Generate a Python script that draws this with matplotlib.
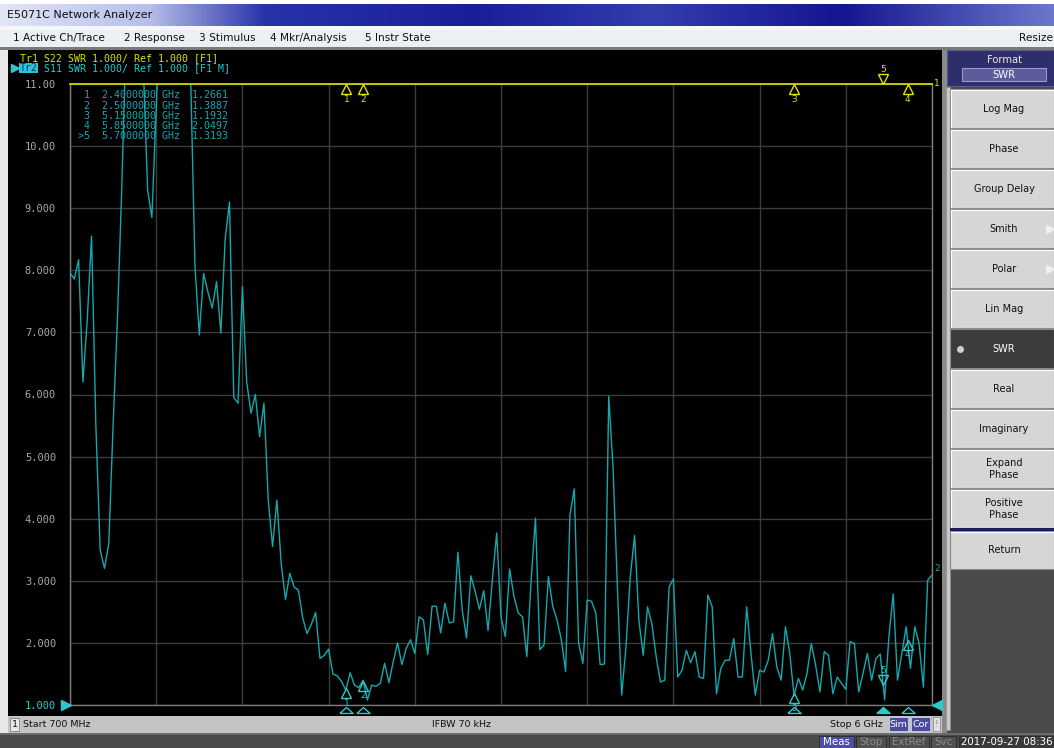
import numpy as np
import matplotlib.pyplot as plt
from matplotlib.patches import Rectangle
from matplotlib.colors import LinearSegmentedColormap
import matplotlib.transforms as mtransforms

plt.rcParams['font.family'] = ['DejaVu Sans']
MONO = 'DejaVu Sans Mono'

# sweep: Start 700 MHz, Stop 6 GHz, 201 points
start_ghz = 0.7
stop_ghz = 6.0
n_points = 201
freq = np.linspace(start_ghz, stop_ghz, n_points)

# Tr2 S11 SWR (values above 11 are off-scale)
s11_swr = [
    7.96, 7.86, 8.17, 6.2, 7.2, 8.55, 5.5, 3.5, 3.2, 3.6,
    5.5, 7.2, 9.3, 11.8, 12.5, 12.5, 12.5, 11.3, 9.3, 8.85,
    10.6, 12.3, 12.8, 12.8, 12.8, 12.8, 12.8, 12.2, 11.1, 8.06,
    6.96, 7.95, 7.65, 7.39, 7.82, 6.99, 8.5, 9.1, 5.95, 5.86,
    7.74, 6.2, 5.7, 6.0, 5.32, 5.86, 4.3, 3.55, 4.3, 3.28,
    2.7, 3.12, 2.9, 2.85, 2.4, 2.15, 2.3, 2.49, 1.75, 1.8,
    1.9, 1.5, 1.47, 1.38, 1.24, 1.52, 1.32, 1.28, 1.40, 1.08,
    1.32, 1.3, 1.35, 1.67, 1.36, 1.7, 2.0, 1.65, 1.91, 2.05,
    1.83, 2.42, 2.37, 1.81, 2.59, 2.59, 2.16, 2.64, 2.32, 2.34,
    3.46, 2.53, 2.08, 3.08, 2.83, 2.54, 2.84, 2.2, 3.02, 3.77,
    2.42, 2.1, 3.19, 2.75, 2.48, 2.42, 1.78, 3.02, 4.01, 1.89,
    1.97, 3.07, 2.59, 2.37, 2.05, 1.54, 4.06, 4.48, 2.0, 1.67,
    2.69, 2.67, 2.48, 1.65, 1.66, 5.97, 4.82, 2.91, 1.16, 1.94,
    3.07, 3.73, 2.36, 1.8, 2.58, 2.31, 1.78, 1.37, 1.4, 2.9,
    3.03, 1.45, 1.56, 1.88, 1.68, 1.86, 1.45, 1.43, 2.77, 2.58,
    1.18, 1.59, 1.72, 1.72, 2.07, 1.45, 1.45, 2.58, 1.83, 1.16,
    1.56, 1.53, 1.72, 2.15, 1.61, 1.4, 2.26, 1.83, 1.15, 1.43,
    1.24, 1.51, 1.99, 1.64, 1.21, 1.86, 1.8, 1.18, 1.45, 1.35,
    1.25, 2.02, 1.99, 1.21, 1.51, 1.83, 1.4, 1.75, 1.82, 1.08,
    2.1, 2.79, 1.4, 1.83, 2.26, 1.59, 2.26, 1.99, 1.29, 3.01,
    3.09,
]
# Tr1 S22 sits on the top graticule line
s22_level = 11.0

marker_ids = ['1', '2', '3', '4', '5']
marker_freq = [2.4, 2.5, 5.15, 5.85, 5.7]
marker_swr = [1.2661, 1.3887, 1.1932, 2.0497, 1.3193]
active_marker = 4

y_ticks = [1, 2, 3, 4, 5, 6, 7, 8, 9, 10, 11]
y_labels = ['1.000', '2.000', '3.000', '4.000', '5.000', '6.000',
            '7.000', '8.000', '9.000', '10.00', '11.00']

menu_items = ['1 Active Ch/Trace', '2 Response', '3 Stimulus',
              '4 Mkr/Analysis', '5 Instr State']
menu_x = [13, 124, 199, 270, 365]
format_buttons = ['Log Mag', 'Phase', 'Group Delay', 'Smith', 'Polar',
                  'Lin Mag', 'SWR', 'Real', 'Imaginary', 'Expand\nPhase',
                  'Positive\nPhase']
selected_button = 'SWR'

TEAL = '#14a8ae'
CYAN = '#2cc8cc'
YELLOW = '#e2e200'
GRAYTXT = '#a8a8a8'

W, H = 1054, 748
fig = plt.figure(figsize=(W / 100, H / 100), dpi=100)
fig.patch.set_facecolor('white')

# ---- instrument chrome, in screen pixels ----
ui = fig.add_axes([0, 0, 1, 1])
ui.axis('off')


def box(x0, y0, x1, y1, fc, ec='none', lw=0, z=1):
    ui.add_patch(Rectangle((x0, y0), x1 - x0, y1 - y0, facecolor=fc,
                           edgecolor=ec, linewidth=lw, zorder=z))


def ftext(x, y, s, **kw):
    # text placed in screen pixels, drawn above the graticule
    return fig.text(x / W, 1 - y / H, s, **kw)


# title bar gradient
title_cmap = LinearSegmentedColormap.from_list('title', [
    (0.0, (0.88, 0.90, 0.97)), (0.14, (0.72, 0.75, 0.92)),
    (0.25, (0.16, 0.20, 0.66)), (0.45, (0.10, 0.12, 0.60)),
    (0.62, (0.20, 0.24, 0.68)), (0.80, (0.08, 0.08, 0.56)),
    (1.0, (0.42, 0.47, 0.80))])
grad = np.linspace(0, 1, 512).reshape(1, -1)
ui.imshow(grad, cmap=title_cmap, extent=(0, W, 26, 4), aspect='auto', zorder=1)
ui.text(7, 15, 'E5071C Network Analyzer', fontsize=8, color='#101010', va='center', zorder=3)

# menu bar
box(0, 26, W, 47, '#eceff4', z=1)
box(0, 26, W, 30, '#f6f7fa', z=1)
for label, mx in zip(menu_items, menu_x):
    ui.text(mx, 37.5, label, fontsize=7.6, color='#101010', va='center', zorder=3)
ui.text(1053, 37.5, 'Resize', fontsize=7.6, color='#101010', va='center', ha='right', zorder=3)
box(0, 47, W, 50, '#7a7a7a', z=1)

# main black panel
box(0, 50, 8, 733, '#e8e8e8', z=1)
box(8, 50, 942, 716, 'black', z=1)
box(942, 50, 947, 733, '#8a8a8a', z=1)

# status bar
box(8, 716, 942, 733, '#c4c4c4', z=1)
box(10, 718, 19, 731, '#e8e8e8', ec='#808080', lw=0.6, z=2)
ui.text(14.5, 724.5, '1', fontsize=6.8, color='#101010', ha='center', va='center', zorder=3)
ui.text(23, 724.5, 'Start 700 MHz', fontsize=6.8, color='#101010', va='center', zorder=3)
ui.text(432, 724.5, 'IFBW 70 kHz', fontsize=6.8, color='#101010', va='center', zorder=3)
ui.text(883, 724.5, 'Stop 6 GHz', fontsize=6.8, color='#101010', va='center', ha='right', zorder=3)
for bx0, bx1, lab in [(889, 908, 'Sim'), (911, 930, 'Cor')]:
    box(bx0, 717, bx1, 731, '#4a4aa0', ec='#d0d0e8', lw=0.6, z=2)
    ui.text((bx0 + bx1) / 2, 724.5, lab, fontsize=6.8, color='white', ha='center', va='center', zorder=3)
box(933, 717, 940, 731, '#e0e0e0', ec='#909090', lw=0.6, z=2)
ui.text(936.5, 724.5, '!', fontsize=6.8, color='#909090', ha='center', va='center', zorder=3)

# bottom bar
box(0, 733, W, 748, '#4a4a4a', z=1)
box(0, 733, W, 735, '#6a6a6a', z=1)
for bx0, bx1, lab, fc, tc in [(819, 854, 'Meas', '#4e4ea6', 'white'),
                              (856, 886, 'Stop', '#505050', '#8c8c8c'),
                              (889, 929, 'ExtRef', '#505050', '#8c8c8c'),
                              (931, 956, 'Svc', '#505050', '#8c8c8c'),
                              (959, 1054, '2017-09-27 08:36', '#3a3a3a', 'white')]:
    box(bx0, 735.5, bx1, 748, fc, ec='#2a2a2a', lw=0.6, z=2)
    ui.text((bx0 + bx1) / 2, 742, lab, fontsize=7.4, color=tc, ha='center', va='center', zorder=3)

# right softkey panel
box(947, 50, W, 733, '#4a4a4a', z=1)
box(947, 50, W, 86, '#2e2e6c', ec='#5a5a90', lw=0.8, z=2)
ui.text(1004, 60, 'Format', fontsize=7.2, color='#e8e8f0', ha='center', va='center', zorder=3)
box(962, 68, 1046, 81, '#5c5c9c', ec='#9a9ac8', lw=0.8, z=3)
ui.text(1004, 74.5, 'SWR', fontsize=7.2, color='white', ha='center', va='center', zorder=4)
box(946, 87, 950, 730, '#c8c8c8', ec='#909090', lw=0.5, z=2)

btn_top = 89
btn_h = 40
for k, lab in enumerate(format_buttons):
    y0 = btn_top + k * btn_h
    sel = lab == selected_button
    box(950, y0, W, y0 + btn_h - 1, '#3c3c3c' if sel else '#d6d6d6',
        ec='#8a8a8a', lw=0.8, z=2)
    if not sel:
        ui.plot([951, 1053], [y0 + 1, y0 + 1], color='white', lw=0.8, zorder=3)
        ui.plot([951, 951], [y0 + 1, y0 + btn_h - 2], color='white', lw=0.8, zorder=3)
    ui.text(1004, y0 + btn_h / 2 - 0.5, lab, fontsize=7, ha='center', va='center',
            color='white' if sel else '#101010', linespacing=1.25, zorder=4)
    if sel:
        ui.plot([960], [y0 + btn_h / 2], 'o', color='#d0d0d0', markersize=4, zorder=4)
    if lab in ('Smith', 'Polar'):
        ui.plot([1050], [y0 + btn_h / 2], '>', color='#f0f0f0', markersize=6, zorder=4)
sep_y = btn_top + len(format_buttons) * btn_h
box(950, sep_y - 1, W, sep_y + 2, '#1c1c5c', z=3)
box(950, sep_y + 2, W, sep_y + 40, '#d6d6d6', ec='#8a8a8a', lw=0.8, z=2)
ui.plot([951, 1053], [sep_y + 3, sep_y + 3], color='white', lw=0.8, zorder=3)
ui.text(1004, sep_y + 21, 'Return', fontsize=7, ha='center', va='center', color='#101010', zorder=4)

# trace header lines (monospace: 5.94 px per character)
char_w = 5.94
ui.text(20, 58, 'Tr1 S22 SWR 1.000/ Ref 1.000 [F1]', family=MONO, fontsize=7.1,
        color=YELLOW, va='center', zorder=3)
box(19, 63, 37.5, 73, '#28c4d4', z=2)
ui.text(20, 68, 'Tr2', family=MONO, fontsize=7.1, color='#1a2a70', va='center', zorder=4)
ui.text(20 + 3 * char_w, 68, ' S11 SWR 1.000/ Ref 1.000 [F1 M]', family=MONO, fontsize=7.1,
        color=CYAN, va='center', zorder=3)
ui.plot([14.5], [68], '>', color=CYAN, markersize=6, zorder=3)

ui.set_xlim(0, W)
ui.set_ylim(H, 0)

# ---- graticule ----
ax = fig.add_axes([70 / W, 43 / H, 862 / W, 621 / H])
ax.set_facecolor('black')
ax.set_xlim(start_ghz, stop_ghz)
ax.set_ylim(1, 11)
ax.set_xticks(np.linspace(start_ghz, stop_ghz, 11))
ax.set_xticklabels([])
ax.set_yticks(y_ticks)
ax.set_yticklabels(y_labels, family=MONO, fontsize=7.5, color=GRAYTXT)
ax.get_yticklabels()[0].set_color(CYAN)
ax.tick_params(length=0, pad=10)
ax.grid(True, color='#3c3c3c', lw=1)
for side in ('left', 'right', 'bottom'):
    ax.spines[side].set_color('#7c7c7c')
    ax.spines[side].set_linewidth(1)
ax.spines['top'].set_visible(False)

# traces
ax.axhline(s22_level, color=YELLOW, lw=1.2, clip_on=False, zorder=4)
ax.plot(freq, s11_swr, color=TEAL, lw=1.0, zorder=3)

# marker readout table
for k, (mid, mf, mv) in enumerate(zip(marker_ids, marker_freq, marker_swr)):
    prefix = '>' if k == active_marker else ' '
    line = f'{prefix}{mid}  {mf:.7f} GHz  {mv:.4f}'
    ftext(78, 95.5 + k * 10.2, line, family=MONO, fontsize=7.2, color=TEAL, va='center')


def shifted(dx, dy, base=None):
    return mtransforms.offset_copy(base if base is not None else ax.transData,
                                   fig=fig, x=dx, y=dy, units='dots')


flat_tri = [(-1, -0.45), (1, -0.45), (0, 0.45), (-1, -0.45)]
bottom_tr = mtransforms.blended_transform_factory(ax.transData, ax.transAxes)

for k, (mid, mf, mv) in enumerate(zip(marker_ids, marker_freq, marker_swr)):
    act = k == active_marker
    for level, col in [(mv, CYAN), (s22_level, YELLOW)]:
        if act:
            ax.plot([mf], [level], 'v', transform=shifted(0, 5), mfc='none', mec=col,
                    mew=1, markersize=6.5, clip_on=False, zorder=6)
            ax.text(mf, level, mid, transform=shifted(0, 15), fontsize=6.5, color=col,
                    ha='center', va='center', clip_on=False, zorder=6)
        else:
            ax.plot([mf], [level], '^', transform=shifted(0, -5), mfc='none', mec=col,
                    mew=1, markersize=6.5, clip_on=False, zorder=6)
            ax.text(mf, level, mid, transform=shifted(0, -15), fontsize=6.5, color=col,
                    ha='center', va='center', clip_on=False, zorder=6)
    # stimulus position markers below the graticule
    ax.plot([mf], [0], marker=flat_tri, transform=shifted(0, -4.5, bottom_tr),
            mfc=CYAN if act else 'none', mec=CYAN, mew=1, markersize=9.5,
            clip_on=False, zorder=6)

# trace labels and reference position arrows
ax.text(stop_ghz, s22_level, '1', transform=shifted(2, 1), fontsize=6.5, color=YELLOW,
        ha='left', va='center', clip_on=False)
ax.text(stop_ghz, s11_swr[-1], '2', transform=shifted(2, 7), fontsize=6.5, color=TEAL,
        ha='left', va='center', clip_on=False)
ax.plot([start_ghz], [1], '>', transform=shifted(-4, 0), color=CYAN, markersize=7,
        clip_on=False, zorder=6)
ax.plot([stop_ghz], [1], '<', transform=shifted(4.5, 0), color=CYAN, markersize=7,
        clip_on=False, zorder=6)

fig.savefig('out.png', dpi=100)
